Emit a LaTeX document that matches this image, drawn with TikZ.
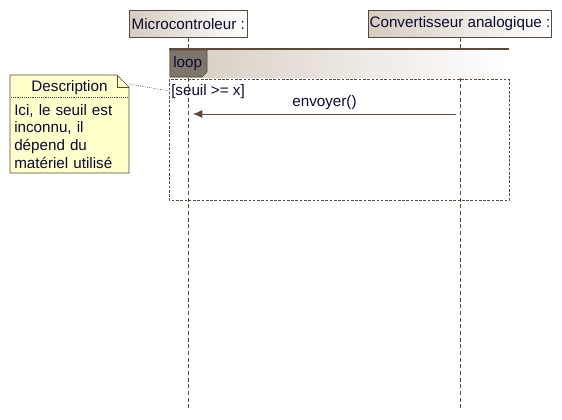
\documentclass[tikz,border=0pt]{standalone}
\usepackage{fontspec}
\setmainfont{Liberation Sans}
\definecolor{lineclr}{HTML}{5A4A3C}
\definecolor{headclr}{HTML}{D6CCC0}
\definecolor{tabclr}{HTML}{7E756C}
\definecolor{noteclr}{HTML}{FFFFCC}
\definecolor{txtclr}{HTML}{0A0A30}
\tikzset{
	lifehead/.style={draw=lineclr, left color=headclr, right color=white, minimum height=27*0.75pt, inner sep=1pt, anchor=north west, text=txtclr},
	lifeline/.style={lineclr, dash pattern=on 3pt off 2pt},
	frameline/.style={lineclr, dash pattern=on 2pt off 1.2pt},
	msg/.style={lineclr, semithick, -{Latex[length=7pt,width=6pt]}},
	lbl/.style={text=txtclr, inner sep=0pt}
}
\usetikzlibrary{arrows.meta}
\begin{document}
\begin{tikzpicture}[x=0.75pt, y=-0.75pt, font=\fontsize{11.4}{13.2}\selectfont]
		\useasboundingbox (0,0) rectangle (562,420);

		% lifelines
		\node[lifehead, minimum width=118*0.75pt] (micro) at (129,10) {Microcontroleur :};
		\node[lifehead, minimum width=182*0.75pt] (conv) at (368,10) {Convertisseur analogique :};
		\coordinate (microend) at (188,408);
		\coordinate (convend) at (460,408);
		\draw[lifeline] (micro.south -| microend) -- (microend);
		\draw[lifeline] (conv.south -| convend) -- (convend);

		% loop fragment
		\shade[left color=headclr, right color=white] (169,49) rectangle (509,78);
		\draw[lineclr, thick] (169,49) -- (509,49);
		\draw[lineclr, fill=tabclr] (170,50) -- (207,50) -- (207,72) -- (202,77) -- (170,77) -- cycle;
		\node[lbl, anchor=west] (looplbl) at (173,64) {loop};
		\draw[frameline] (169,79) rectangle (509,200);
		\node[lbl, anchor=north west] (guard) at (171,84) {[seuil >= x]};

		% message
		\coordinate (msgstart) at (456,114);
		\coordinate (msgend) at (193,114);
		\draw[msg] (msgstart) -- (msgend) node[lbl, above=3pt, midway] (envoyer) {envoyer()};

		% note
		\draw[lineclr, fill=noteclr] (10,75) -- (117,75) -- (129,87) -- (129,173) -- (10,173) -- cycle;
		\draw[lineclr] (117,75) -- (117,87) -- (129,87);
		\node[lbl] (notetitle) at (69.5,88) {Description};
		\draw[lineclr, densely dotted] (11,97) -- (128,97);
		\node[lbl, anchor=north west, align=left, text width=112*0.75pt] (notetext) at (14,104) {Ici, le seuil est\\ inconnu, il\\ dépend du\\ matériel utilisé};
		\draw[black, densely dotted] (129,84) -- (guard.west);
	\end{tikzpicture}
\end{document}
